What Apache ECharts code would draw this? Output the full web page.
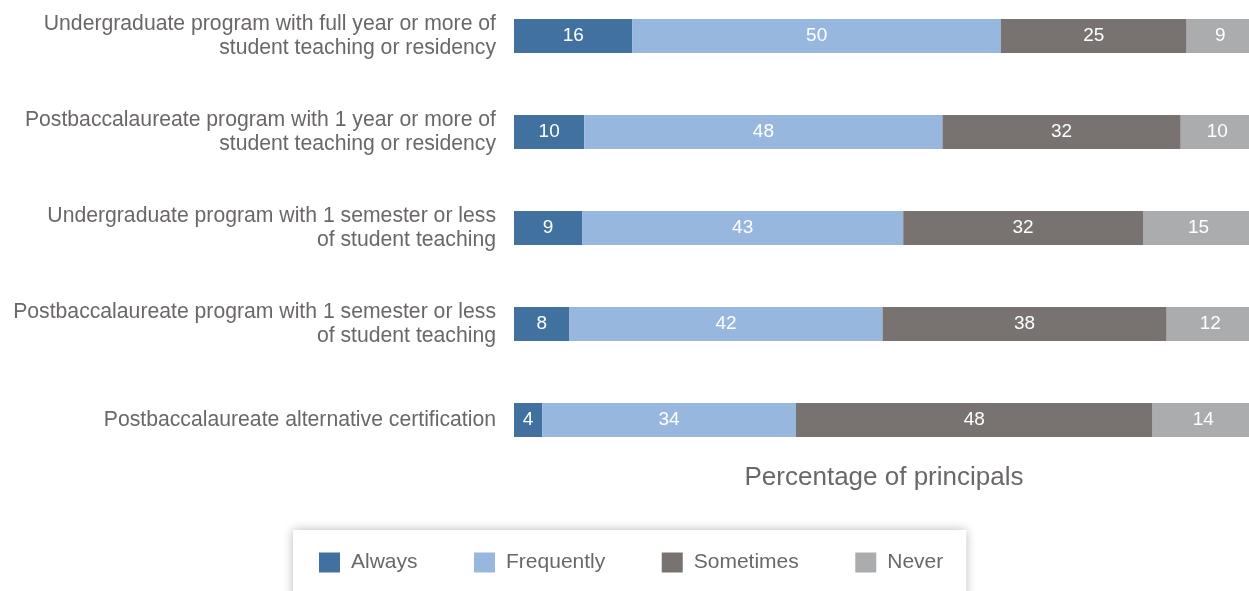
<!DOCTYPE html>
<html>
<head>
<meta charset="utf-8">
<script src="https://cdn.jsdelivr.net/npm/echarts@6/dist/echarts.min.js"></script>
<style>
html,body{margin:0;padding:0;background:#fff;}
#c{width:1249px;height:591px;}
</style>
</head>
<body>
<div id="c"></div>
<script>
const categories = [
  "Undergraduate program with full year or more of\nstudent teaching or residency",
  "Postbaccalaureate program with 1 year or more of\nstudent teaching or residency",
  "Undergraduate program with 1 semester or less\nof student teaching",
  "Postbaccalaureate program with 1 semester or less\nof student teaching",
  "Postbaccalaureate alternative certification"
];
const seriesNames = ["Always", "Frequently", "Sometimes", "Never"];
// values; labels show them rounded
const always = [16, 9.5, 9.2, 7.5, 3.8];
const frequently = [49.8, 48.4, 43.4, 42.3, 34.3];
const sometimes = [25.1, 32.2, 32.4, 38.4, 48.2];
const never = [9.1, 9.9, 15, 11.8, 13.7];
const axisTitle = "Percentage of principals";

const colors = ["#41729f", "#98b7de", "#787271", "#abacad"];
const values = [always, frequently, sometimes, never];
const font = "'Liberation Sans', Arial, Helvetica, sans-serif";

const chart = echarts.init(document.getElementById('c'), null, {renderer: 'canvas'});
chart.setOption({
  animation: false,
  color: colors,
  grid: {left: 514, top: -12, width: 740, height: 480, containLabel: false, outerBoundsMode: 'none'},
  xAxis: {
    type: 'value', min: 0, max: 100,
    axisLine: {show: false}, axisTick: {show: false},
    axisLabel: {show: false}, splitLine: {show: false}
  },
  yAxis: {
    type: 'category', data: categories, inverse: true,
    axisLine: {show: false}, axisTick: {show: false},
    axisLabel: {
      margin: 18, color: '#6b6767', fontSize: 21.2, fontFamily: font,
      lineHeight: 24, align: 'right'
    }
  },
  legend: {
    data: seriesNames,
    left: 293, top: 530,
    padding: [22, 23, 40, 26],
    itemGap: 56.5, itemWidth: 21, itemHeight: 20,
    backgroundColor: '#fff',
    shadowBlur: 10, shadowColor: 'rgba(0,0,0,0.28)', shadowOffsetY: 0,
    textStyle: {color: '#6b6767', fontSize: 21, fontFamily: font, padding: [0, 0, 0, 6]},
    icon: 'rect', selectedMode: false
  },
  graphic: [{
    type: 'text',
    style: {
      text: axisTitle, x: 884, y: 478, align: 'center', verticalAlign: 'middle',
      fill: '#6b6767', fontSize: 26, fontFamily: font
    }
  }],
  series: seriesNames.map((n, i) => ({
    name: n, type: 'bar', stack: 'total', data: values[i],
    barWidth: 34,
    label: {
      show: true, position: 'inside', color: '#fff', fontSize: 19, fontFamily: font,
      formatter: p => Math.round(p.value)
    }
  }))
});
</script>
</body>
</html>
